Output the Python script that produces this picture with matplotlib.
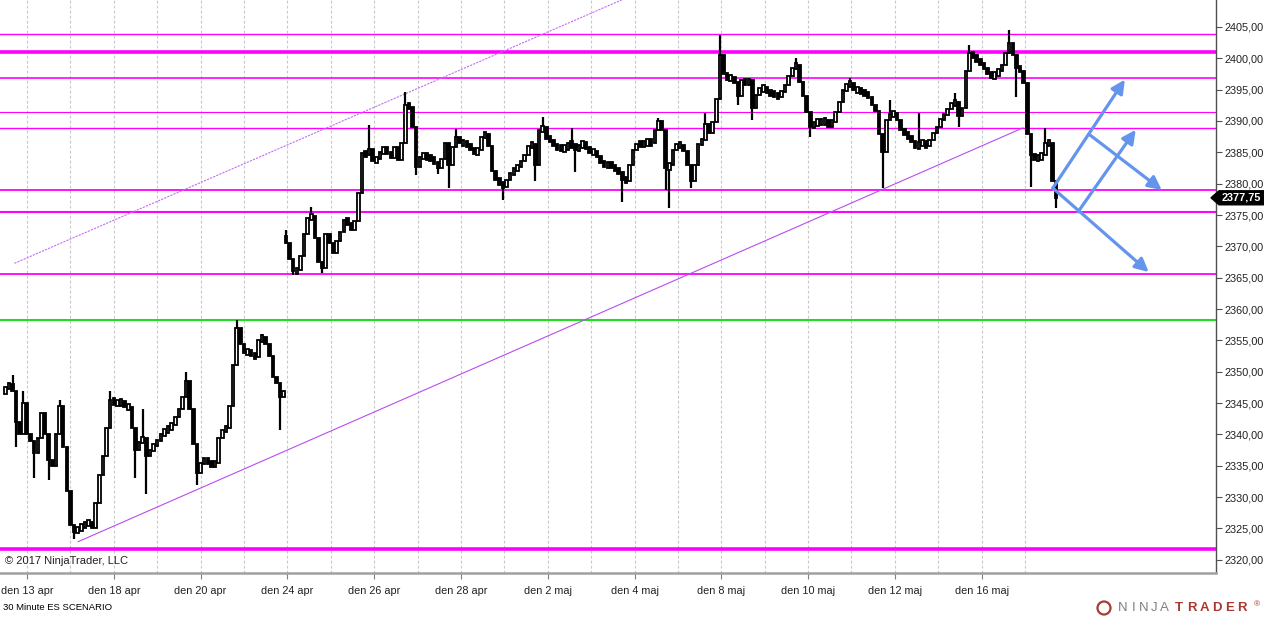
import matplotlib
matplotlib.use('Agg')
import matplotlib.pyplot as plt
import matplotlib.transforms as mtransforms
from matplotlib.patches import FancyArrowPatch, Polygon, Ellipse
import numpy as np

plt.rcParams['font.family'] = ['Liberation Sans', 'DejaVu Sans']

# 30 minute ES, decimated to 12 bars per trading day
BARS_PER_DAY = 12

# before the weekend gap (12 apr - 21 apr)
seg1_start = -0.5
seg1_open = 2346.5
seg1_close = [2347.5, 2348, 2347, 2342, 2340, 2345, 2340, 2339, 2337, 2339.5,
              2343.5, 2340, 2336, 2335, 2340, 2344.5, 2338, 2331, 2325.5, 2324.5,
              2325, 2325.3, 2325.8, 2326, 2325, 2329, 2333.5, 2336.5, 2341, 2345.5,
              2345, 2345, 2345.2, 2344.4, 2344.4, 2341, 2337.5, 2338.8, 2339.5, 2336.5,
              2337.5, 2338.3, 2339, 2340, 2340.6, 2341, 2341.5, 2342.8, 2344, 2346,
              2348.5, 2344, 2338.5, 2333.8, 2335.5, 2336, 2335.5, 2335, 2335.5, 2339.5,
              2340.7, 2341, 2344.5, 2351, 2357, 2354.5, 2353, 2353.2, 2352.7, 2352.4,
              2355, 2355.6, 2354.4, 2352.5, 2349.2, 2348.2, 2346, 2346.8]
seg1_hi = {2: 2349.5, 5: 2347, 15: 2345.5, 29: 2347, 38: 2344, 50: 2350,
           64: 2358.3, 71: 2356}
seg1_lo = {3: 2338, 8: 2333, 12: 2332.7, 19: 2323.3, 36: 2333, 39: 2330.5,
           53: 2332, 76: 2340.7}

# after the gap (24 apr - 17 maj)
seg2_start = 5.968
seg2_open = 2371.7
seg2_close = [2370.5, 2368, 2366, 2366.2, 2368.5, 2372, 2374.5, 2374.8, 2371.3, 2367.5,
              2366.5, 2372, 2370.5, 2369, 2370.8, 2372.3, 2374.2, 2373.7, 2372.6, 2374,
              2378.5, 2384.9, 2384.5, 2385.5, 2383.6, 2384, 2385, 2385.6, 2385, 2384.1,
              2385.8, 2383.8, 2386.5, 2392.5, 2392.2, 2389, 2382.7, 2384.3, 2384.5, 2384.2,
              2384, 2383.4, 2382.5, 2384, 2386.5, 2383, 2385.9, 2387.5, 2386.5, 2386.5,
              2386.2, 2385.5, 2385, 2385.3, 2387.5, 2388, 2386, 2382, 2380.6, 2380.1,
              2379.5, 2380.6, 2381.7, 2382.2, 2382.7, 2383.6, 2384.5, 2386, 2386.3, 2383,
              2388.5, 2389, 2387.2, 2387, 2386, 2385.7, 2385.6, 2385.6, 2386.3, 2386.2,
              2385.5, 2386, 2386.5, 2385.7, 2385, 2385.2, 2384.3, 2383.4, 2382.8, 2383.2,
              2382.7, 2382.2, 2381.8, 2380.6, 2380.5, 2383, 2385.4, 2386.4, 2386.2, 2386.5,
              2386.6, 2386.5, 2388.5, 2390, 2388.6, 2382.5, 2383, 2385.4, 2386.2, 2386.2,
              2385.2, 2383, 2380.5, 2383, 2386.3, 2387, 2389.5, 2388.1, 2389.8, 2393.5,
              2400.5, 2397.5, 2396.7, 2396.9, 2396.2, 2394, 2396.5, 2396, 2396.5, 2392,
              2394.2, 2395.2, 2395.2, 2394.6, 2394.3, 2394.2, 2393.8, 2394.7, 2395.8, 2397.2,
              2398.5, 2399, 2396.2, 2394, 2391.5, 2389, 2389.7, 2389.8, 2389.9, 2389.9,
              2389.3, 2389.9, 2391.5, 2393, 2395, 2395.7, 2396, 2395, 2395, 2394.6,
              2394.4, 2393.8, 2392.6, 2391.6, 2388, 2385, 2390.2, 2391, 2391.2, 2390.2,
              2388.6, 2388, 2387.4, 2386.8, 2385.7, 2386.5, 2386.5, 2386, 2386.9, 2388.1,
              2389, 2390.3, 2390.9, 2391.9, 2392.8, 2393, 2390.8, 2392, 2398, 2400.9,
              2400.2, 2399.7, 2399.2, 2398.3, 2397.6, 2397, 2397.5, 2398, 2399, 2400.8,
              2402.5, 2400.5, 2398.5, 2398, 2396.1, 2388, 2384.5, 2384, 2384.2, 2384.5,
              2386.5, 2386.5, 2380.5, 2377.75]
seg2_hi = {0: 2372.6, 7: 2376.3, 23: 2389.4, 33: 2394.6, 47: 2388.7, 71: 2390.6,
           79: 2388.9, 103: 2390.4, 116: 2391.3, 120: 2403.7, 141: 2400, 156: 2396.9,
           167: 2393.4, 175: 2391.3, 185: 2394.5, 189: 2402.1, 200: 2404.5, 210: 2388.9}
seg2_lo = {2: 2365.5, 10: 2365.8, 36: 2381.4, 42: 2381.5, 45: 2379.3, 60: 2377.4,
           69: 2380.5, 80: 2381.9, 93: 2377.1, 105: 2379, 106: 2376.1, 112: 2379.3,
           125: 2392.5, 129: 2390.2, 145: 2387.5, 165: 2379.3, 186: 2389, 202: 2393.8,
           206: 2379.5, 213: 2376.1}

last_price = 2377.75

day_labels = ['den 13 apr', 'den 18 apr', 'den 20 apr', 'den 24 apr', 'den 26 apr',
              'den 28 apr', 'den 2 maj', 'den 4 maj', 'den 8 maj', 'den 10 maj',
              'den 12 maj', 'den 16 maj']
n_days = 24

# horizontal levels (price, width)
magenta_levels = [2403.9, 2401.05, 2396.9, 2391.5, 2388.9, 2379.0, 2375.5, 2365.65, 2321.75]
magenta_widths = [1.0, 2.6, 1.2, 0.8, 1.0, 1.3, 1.5, 1.3, 2.6]
green_level = 2358.3

# trendlines (day, price)
lower_trend = [(1.18, 2322.9), (22.95, 2388.9)]
upper_trend = [(-0.29, 2367.3), (14.5, 2411.7)]

# scenario arrows (day, price)
pA = (23.64, 2379.3)
pB = (24.47, 2387.9)
pC = (24.22, 2375.5)
scenario_arrows = [(pA, (25.30, 2396.6)), (pB, (26.15, 2379.0)),
                   (pC, (25.55, 2388.6)), (pA, (25.85, 2365.9))]

W, H = 1264, 617
fig = plt.figure(figsize=(W / 100, H / 100), dpi=100)
ax = fig.add_axes([0, 44 / H, 1216 / W, 573 / H])
ax.set_xlim(-0.622, 27.4)
ax.set_ylim(2317.9, 2409.3)


def draw_candles(t0, first_open, closes, hi, lo):
    c = np.array(closes, dtype=float)
    o = np.concatenate([[first_open], c[:-1]])
    t = t0 + np.arange(len(c)) / BARS_PER_DAY
    h = np.maximum(o, c)
    l = np.minimum(o, c)
    for i, v in hi.items():
        h[i] = max(h[i], v)
    for i, v in lo.items():
        l[i] = min(l[i], v)
    ax.vlines(t, l, h, color='black', lw=1.6, zorder=4)
    faces = np.where(c >= o, 'white', 'black')
    # thin bodies are drawn a little taller so the series reads like the dense original
    body = np.maximum(np.abs(c - o), 1.0)
    mid = (o + c) / 2
    ax.bar(t, body, bottom=mid - body / 2,
           width=0.7 / BARS_PER_DAY, color=faces, edgecolor='black',
           linewidth=1.3, zorder=5)


# day separators
for d in range(n_days):
    ax.axvline(d, color='#C8C8C8', lw=0.8, ls=(0, (2.5, 2)), zorder=0)

for lvl, w in zip(magenta_levels, magenta_widths):
    ax.axhline(lvl, color='#FF00FF', lw=w, zorder=2)
ax.axhline(green_level, color='#22DD22', lw=1.5, zorder=2)

(x0, y0), (x1, y1) = lower_trend
ax.plot([x0, x1], [y0, y1], color='#B94CF2', lw=0.8, zorder=3)
(x0, y0), (x1, y1) = upper_trend
ax.plot([x0, x1], [y0, y1], color='#C070F5', lw=0.8, ls=(0, (2, 1)), zorder=3)

draw_candles(seg1_start, seg1_open, seg1_close, seg1_hi, seg1_lo)
draw_candles(seg2_start, seg2_open, seg2_close, seg2_hi, seg2_lo)

for start, end in scenario_arrows:
    ax.add_patch(FancyArrowPatch(start, end, arrowstyle='-|>', mutation_scale=20,
                                 color='#6495ED', lw=2.3, shrinkA=0, shrinkB=0,
                                 zorder=6))

# axes styling
for s in ['top', 'left']:
    ax.spines[s].set_visible(False)
ax.spines['right'].set_color('#505050')
ax.spines['right'].set_linewidth(1.0)
ax.spines['bottom'].set_color('#A0A0A0')
ax.spines['bottom'].set_linewidth(1.8)

yt = list(range(2320, 2406, 5))
ax.yaxis.tick_right()
ax.set_yticks(yt)
ax.set_yticklabels([f'{v},00' for v in yt])
ax.tick_params(axis='y', length=4, width=0.8, color='#505050', pad=2,
               labelsize=7.8, labelcolor='#202020')
ax.set_xticks(range(0, 2 * len(day_labels), 2))
ax.set_xticklabels(day_labels)
ax.tick_params(axis='x', length=4, width=0.8, color='#808080', pad=5,
               labelsize=7.8, labelcolor='#202020')

# last price marker
blend = mtransforms.blended_transform_factory(fig.transFigure, ax.transData)
hh = 7 / 6.27
ax.add_patch(Polygon([(1211 / W, last_price), (1219 / W, last_price + hh),
                      (1.0, last_price + hh), (1.0, last_price - hh),
                      (1219 / W, last_price - hh)],
                     closed=True, color='black', transform=blend, clip_on=False,
                     zorder=10))
ax.text(1241 / W, last_price, f'{last_price:.2f}'.replace('.', ','), transform=blend,
        color='white', fontsize=7.8, fontweight='bold', ha='center', va='center',
        zorder=11)

fig.text(5 / W, 1 - 561 / H, '© 2017 NinjaTrader, LLC', fontsize=8,
         color='#202020', va='center')
fig.text(3 / W, 1 - 607 / H, '30 Minute ES SCENARIO', fontsize=6.8,
         color='#000000', va='center')

# NinjaTrader logo, letter spaced
fig.add_artist(Ellipse((1104 / W, 1 - 608 / H), 13 / W, 13 / H,
                       transform=fig.transFigure, fill=False,
                       ec='#A83A30', lw=1.6))
for i, ch in enumerate('NINJA'):
    fig.text((1123 + 10.4 * i) / W, 1 - 608 / H, ch, fontsize=9.5, color='#808080',
             va='center', ha='center')
for i, ch in enumerate('TRADER'):
    fig.text((1179 + 12.6 * i) / W, 1 - 608 / H, ch, fontsize=9.5, color='#A83A30',
             fontweight='bold', va='center', ha='center')
fig.text(1254 / W, 1 - 605 / H, '®', fontsize=6, color='#A83A30', va='center')

fig.savefig('out.png', dpi=100)
